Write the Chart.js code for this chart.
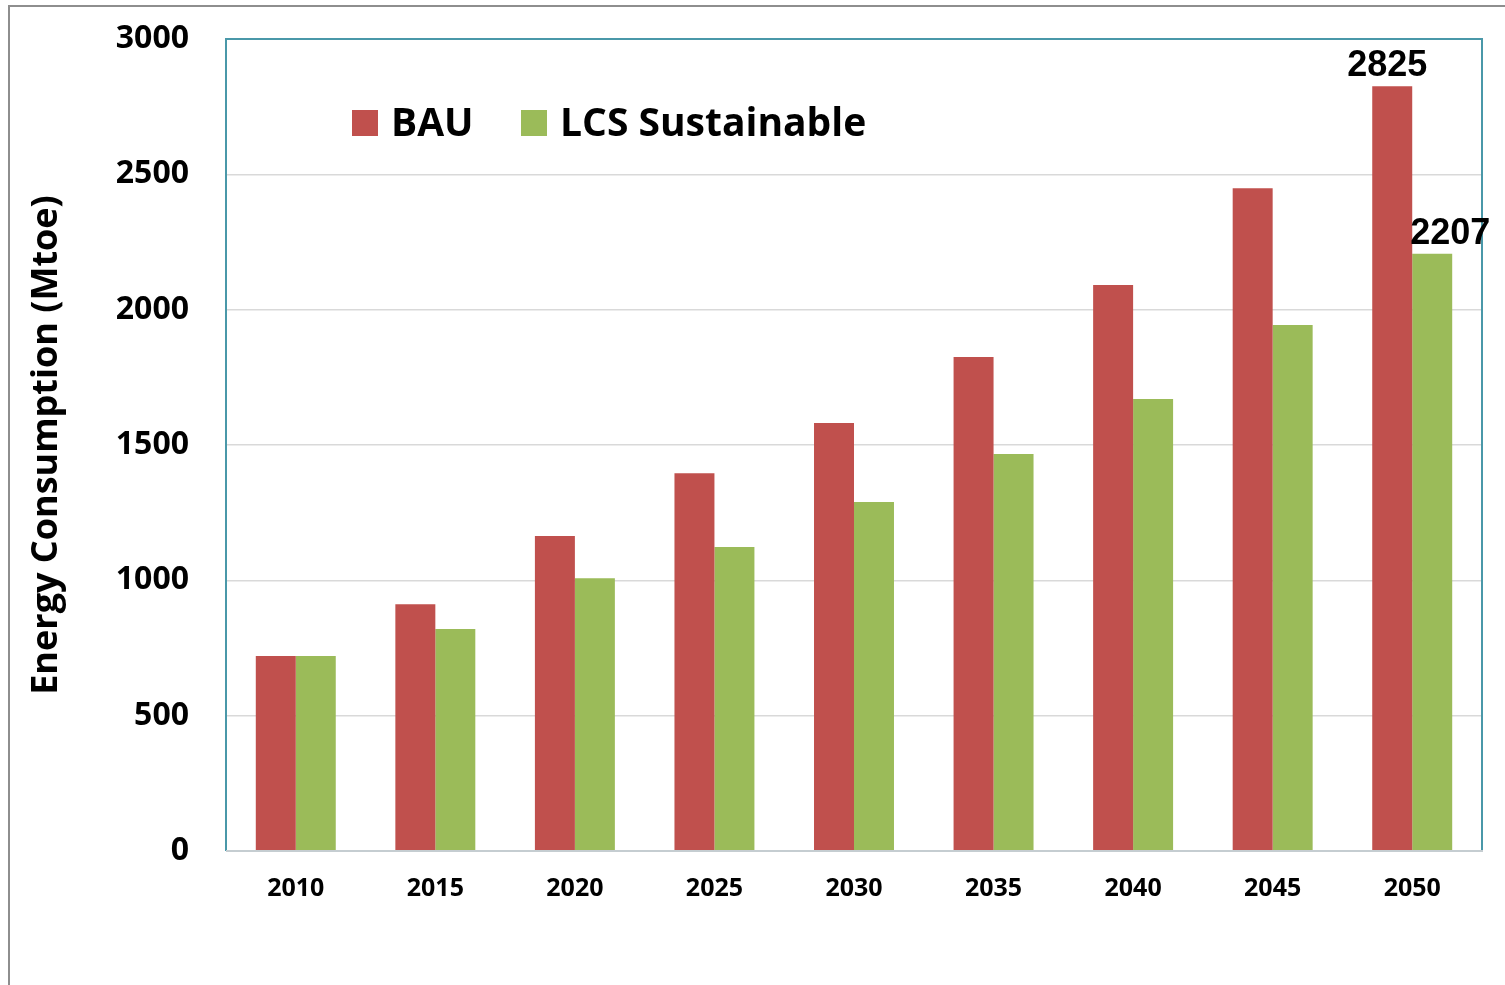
<!DOCTYPE html>
<html>
<head>
<meta charset="utf-8">
<script src="https://cdn.jsdelivr.net/npm/chart.js@4"></script>
<style>
    html, body { margin: 0; padding: 0; background: #fff; overflow: hidden; }
    #frame {
        position: absolute; left: 8px; top: 5px; width: 1600px; height: 1100px;
        border-left: 2px solid #8e8e8e; border-top: 2px solid #8e8e8e;
    }
    #wrap { position: absolute; left: 0; top: 0; width: 1505px; height: 985px; }
</style>
</head>
<body>
<div id="frame"></div>
<div id="wrap"><canvas id="energyChart"></canvas></div>
<script>
const years = ['2010', '2015', '2020', '2025', '2030', '2035', '2040', '2045', '2050'];
const bauValues = [720, 912, 1164, 1396, 1581, 1825, 2091, 2449, 2825];
const lcsValues = [720, 820, 1008, 1123, 1289, 1467, 1670, 1943, 2207];
const yTicks = [0, 500, 1000, 1500, 2000, 2500, 3000];

const BAU_COLOR = '#c0504d';
const LCS_COLOR = '#9bbb59';
const FRAME_COLOR = '#4a98a9';
const LABEL_FONT = '"Open Sans", Lato, sans-serif';

// Frame round the plot area: teal left/top/right, grey bottom axis
const plotFrame = {
    id: 'plotFrame',
    afterDatasetsDraw(chart) {
        const { ctx, chartArea: a } = chart;
        ctx.save();
        ctx.lineWidth = 2;
        ctx.strokeStyle = FRAME_COLOR;
        ctx.beginPath();
        ctx.moveTo(a.left, a.bottom);
        ctx.lineTo(a.left, a.top);
        ctx.lineTo(a.right, a.top);
        ctx.lineTo(a.right, a.bottom);
        ctx.stroke();
        ctx.strokeStyle = '#c5cdd1';
        ctx.beginPath();
        ctx.moveTo(a.left, a.bottom);
        ctx.lineTo(a.right + 1, a.bottom);
        ctx.stroke();
        ctx.restore();
    }
};

// Legend drawn inside the plot, like the original
const insideLegend = {
    id: 'insideLegend',
    afterDraw(chart) {
        const { ctx } = chart;
        const xs = [352, 521];
        const y = 124;
        ctx.save();
        ctx.font = 'bold 39px ' + LABEL_FONT;
        ctx.textBaseline = 'middle';
        chart.data.datasets.forEach((ds, i) => {
            ctx.fillStyle = ds.backgroundColor;
            ctx.fillRect(xs[i], y - 14, 26, 26);
            ctx.fillStyle = '#000';
            ctx.fillText(ds.label, xs[i] + 39, y + 1);
        });
        ctx.restore();
    }
};

// Value labels on the last pair of bars
const endLabels = {
    id: 'endLabels',
    afterDatasetsDraw(chart) {
        const { ctx } = chart;
        const last = years.length - 1;
        const shifts = [-5, 18];
        ctx.save();
        ctx.font = 'bold 36px "Liberation Sans", Arial, sans-serif';
        ctx.fillStyle = '#000';
        ctx.textAlign = 'center';
        ctx.textBaseline = 'bottom';
        chart.data.datasets.forEach((ds, i) => {
            const bar = chart.getDatasetMeta(i).data[last];
            ctx.fillText(String(ds.data[last]), bar.x + shifts[i], bar.y - 2);
        });
        ctx.restore();
    }
};

const ctx = document.getElementById('energyChart').getContext('2d');
new Chart(ctx, {
    type: 'bar',
    data: {
        labels: years,
        datasets: [
            { label: 'BAU', data: bauValues, backgroundColor: BAU_COLOR },
            { label: 'LCS Sustainable', data: lcsValues, backgroundColor: LCS_COLOR }
        ]
    },
    options: {
        responsive: true,
        maintainAspectRatio: false,
        animation: false,
        layout: { padding: { left: 0, top: 39, right: 23, bottom: 0 } },
        datasets: { bar: { barPercentage: 1, categoryPercentage: 0.573 } },
        plugins: {
            legend: { display: false },
            tooltip: { enabled: false }
        },
        scales: {
            x: {
                grid: { display: false, drawTicks: false },
                border: { display: false },
                ticks: {
                    color: '#000',
                    padding: 23,
                    font: { family: LABEL_FONT, weight: 'bold', size: 25 }
                },
                afterFit(scale) { scale.height = 134; }
            },
            y: {
                min: 0,
                max: 3000,
                afterBuildTicks(scale) { scale.ticks = yTicks.map(v => ({ value: v })); },
                grid: { color: '#d9d9d9', lineWidth: 1.5, drawTicks: false },
                border: { display: false },
                ticks: {
                    color: '#000',
                    padding: 37,
                    callback: v => String(v),
                    font: { family: LABEL_FONT, weight: 'bold', size: 32, lineHeight: 1.08 }
                },
                title: {
                    display: true,
                    text: 'Energy Consumption (Mtoe)',
                    color: '#000',
                    padding: { top: 25, bottom: 0 },
                    font: { family: LABEL_FONT, weight: 'bold', size: 36 }
                },
                afterFit(scale) {
                    scale.width = 226;
                    scale.paddingTop = 0;
                    scale.paddingBottom = 0;
                }
            }
        }
    },
    plugins: [plotFrame, insideLegend, endLabels]
});
</script>
</body>
</html>
